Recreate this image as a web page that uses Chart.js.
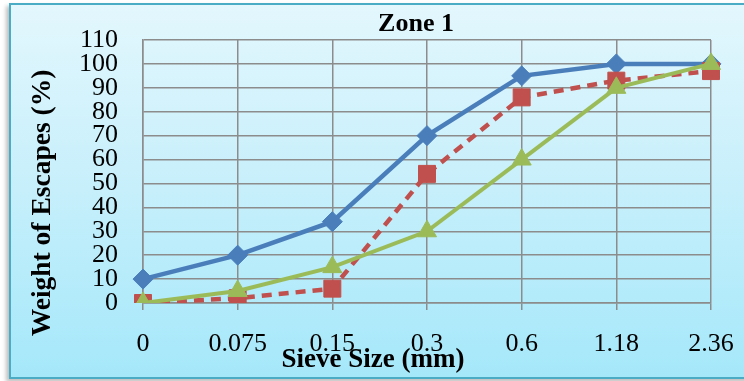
<!DOCTYPE html>
<html>
<head>
<meta charset="utf-8">
<script src="https://cdn.jsdelivr.net/npm/chart.js@4/dist/chart.umd.min.js"></script>
<style>
  html, body { margin: 0; padding: 0; width: 744px; height: 381px; overflow: hidden; background: #ffffff; }
  #frame {
    position: absolute; left: 9px; top: 3px; width: 760px; height: 372px;
    border: 2px solid #4bacc6;
    background: linear-gradient(to bottom, #e3f7fd 0%, #c6effb 50%, #a5e8fa 100%);
    box-shadow: -3px 3px 4px rgba(0,0,0,0.25);
  }
  #wrap { position: absolute; left: 0; top: 0; width: 744px; height: 381px; }
</style>
</head>
<body>
<div id="frame"></div>
<div id="wrap"><canvas id="c" width="744" height="381"></canvas></div>
<script>
const categories = ['0', '0.075', '0.15', '0.3', '0.6', '1.18', '2.36'];
const seriesBlue  = [10, 20, 34, 70, 95, 100, 100];
const seriesRed   = [0, 2, 6, 54, 86, 93, 97];
const seriesGreen = [0, 5, 15, 30, 60, 90, 100];
const yTicks = [0, 10, 20, 30, 40, 50, 60, 70, 80, 90, 100, 110];
const chartTitle = 'Zone 1';
const xTitle = 'Sieve Size (mm)';
const yTitle = 'Weight of Escapes (%)';

const FONT = "'Liberation Serif', 'Times New Roman', serif";

const textPlugin = {
  id: 'texts',
  afterDraw(chart) {
    const ctx = chart.ctx;
    ctx.save();
    ctx.fillStyle = '#000';
    ctx.textAlign = 'center';
    ctx.textBaseline = 'middle';
    ctx.font = 'bold 26px ' + FONT;
    ctx.fillText(chartTitle, 416, 24);
    ctx.font = 'bold 27px ' + FONT;
    ctx.fillText(xTitle, 373, 360);
    ctx.translate(43, 203);
    ctx.rotate(-Math.PI / 2);
    ctx.font = 'bold 27.5px ' + FONT;
    ctx.fillText(yTitle, 0, 0);
    ctx.restore();
  }
};

new Chart(document.getElementById('c'), {
  type: 'line',
  data: {
    labels: categories,
    datasets: [
      {
        data: seriesBlue, borderColor: '#4a7ebb', backgroundColor: '#4a7ebb',
        borderWidth: 4.5, pointStyle: 'rectRot', pointRadius: 10,
        pointBorderWidth: 1, pointBorderColor: '#4a7ebb', order: 3, tension: 0
      },
      {
        data: seriesRed, borderColor: '#c0504d', backgroundColor: '#c0504d',
        borderWidth: 4.5, borderDash: [10, 7], pointStyle: 'rect', pointRadius: 12,
        pointBorderWidth: 1, pointBorderColor: '#c0504d', order: 2, tension: 0
      },
      {
        data: seriesGreen, borderColor: '#9bbb59', backgroundColor: '#9bbb59',
        borderWidth: 4, pointStyle: 'triangle', pointRadius: 11,
        pointBorderWidth: 1, pointBorderColor: '#9bbb59', order: 1, tension: 0
      }
    ]
  },
  options: {
    responsive: false,
    animation: false,
    layout: { padding: { left: 0, top: 40, right: 33, bottom: 0 } },
    plugins: { legend: { display: false }, tooltip: { enabled: false }, title: { display: false } },
    scales: {
      x: {
        type: 'category',
        offset: false,
        grid: { color: '#8c8c8c', lineWidth: 1.5, drawTicks: true, tickLength: 7, tickColor: '#8c8c8c' },
        border: { color: '#8c8c8c', width: 1.5 },
        ticks: { color: '#000', font: { family: FONT, size: 26 }, padding: 19, maxRotation: 0, autoSkip: false },
        afterFit(s) { s.height = 78; s.paddingLeft = 0; s.paddingRight = 0; }
      },
      y: {
        min: 0, max: 110,
        afterBuildTicks(s) { s.ticks = yTicks.map(v => ({ value: v })); },
        grid: { color: '#8c8c8c', lineWidth: 1.5, drawTicks: false },
        border: { color: '#8c8c8c', width: 1.5 },
        ticks: { color: '#000', font: { family: FONT, size: 26 }, padding: 25, autoSkip: false, stepSize: 10 },
        afterFit(s) { s.width = 143; s.paddingTop = 0; s.paddingBottom = 0; }
      }
    }
  },
  plugins: [textPlugin]
});
</script>
</body>
</html>
